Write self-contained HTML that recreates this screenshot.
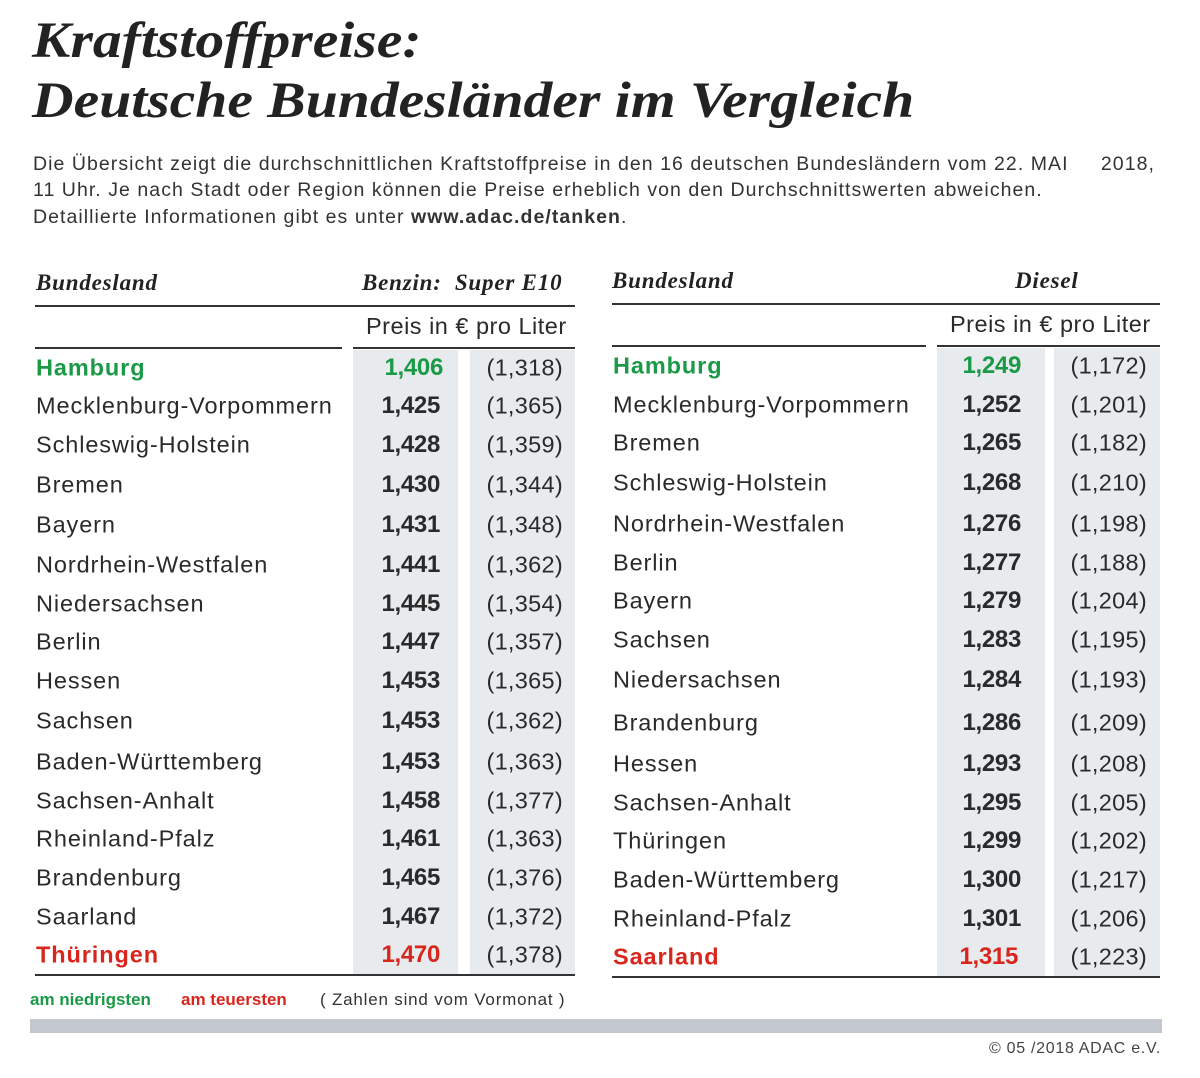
<!DOCTYPE html>
<html><head><meta charset="utf-8"><style>
body{margin:0;width:1200px;height:1078px;background:#fff;position:relative;font-family:"Liberation Sans",sans-serif;color:#2a2a2a;overflow:hidden}
div{position:absolute;white-space:nowrap}
.t{font-family:"Liberation Serif",serif;font-weight:bold;font-style:italic;font-size:51px;left:32px;color:#222;transform-origin:left top;transform:scaleX(1.13)}
.s{left:33px;font-size:19.5px;color:#333;letter-spacing:1.05px}
.h{font-family:"Liberation Serif",serif;font-weight:bold;font-style:italic;font-size:23px;color:#222;letter-spacing:0.8px}
.sh{background:#e8ebee}
.ln{height:2px;background:#333}
.n{font-size:23.5px;left:36px;transform:translateY(-50%);letter-spacing:0.9px}
.v{font-size:24px;font-weight:bold;text-align:right;transform:translateY(-50%);letter-spacing:-0.3px}
.p{font-size:23.5px;text-align:right;transform:translateY(-50%);letter-spacing:0.3px}
.g{color:#1a9a46;font-weight:bold}.r{color:#d9261c;font-weight:bold}
.pr{font-size:23.5px;letter-spacing:0.5px}
</style></head><body>
<div class="t" style="top:12px">Kraftstoffpreise:</div>
<div class="t" style="top:72px">Deutsche Bundesländer im Vergleich</div>
<div class="s" style="top:153px">Die Übersicht zeigt die durchschnittlichen Kraftstoffpreise in den 16 deutschen Bundesländern vom 22. MAI&nbsp;&nbsp;&nbsp;&nbsp; 2018,</div>
<div class="s" style="top:179px">11 Uhr. Je nach Stadt oder Region können die Preise erheblich von den Durchschnittswerten abweichen.</div>
<div class="s" style="top:206px">Detaillierte Informationen gibt es unter <b>www.adac.de/tanken</b>.</div>

<!-- left table -->
<div class="sh" style="left:353px;top:350px;width:105px;height:625px"></div>
<div class="sh" style="left:470px;top:350px;width:105px;height:625px"></div>
<div class="h" style="left:36px;top:270px">Bundesland</div>
<div class="h" style="left:362px;top:270px">Benzin:&nbsp; Super E10</div>
<div class="ln" style="left:35px;top:305px;width:540px;height:1.5px"></div>
<div class="pr" style="left:366px;top:313px">Preis in € pro Liter</div>
<div class="ln" style="left:35px;top:347px;width:307px;height:1.5px"></div>
<div class="ln" style="left:353px;top:347px;width:222px;height:1.5px"></div>
<div class="ln" style="left:35px;top:974px;width:540px;height:1.5px"></div>

<div class="n g" style="top:368px">Hamburg</div><div class="v g" style="top:368px;left:360px;width:83px">1,406</div><div class="p" style="top:368px;left:470px;width:93px">(1,318)</div>
<div class="n" style="top:406px">Mecklenburg-Vorpommern</div><div class="v" style="top:406px;left:360px;width:80px">1,425</div><div class="p" style="top:406px;left:470px;width:93px">(1,365)</div>
<div class="n" style="top:445px">Schleswig-Holstein</div><div class="v" style="top:445px;left:360px;width:80px">1,428</div><div class="p" style="top:445px;left:470px;width:93px">(1,359)</div>
<div class="n" style="top:485px">Bremen</div><div class="v" style="top:485px;left:360px;width:80px">1,430</div><div class="p" style="top:485px;left:470px;width:93px">(1,344)</div>
<div class="n" style="top:525px">Bayern</div><div class="v" style="top:525px;left:360px;width:80px">1,431</div><div class="p" style="top:525px;left:470px;width:93px">(1,348)</div>
<div class="n" style="top:565px">Nordrhein-Westfalen</div><div class="v" style="top:565px;left:360px;width:80px">1,441</div><div class="p" style="top:565px;left:470px;width:93px">(1,362)</div>
<div class="n" style="top:604px">Niedersachsen</div><div class="v" style="top:604px;left:360px;width:80px">1,445</div><div class="p" style="top:604px;left:470px;width:93px">(1,354)</div>
<div class="n" style="top:642px">Berlin</div><div class="v" style="top:642px;left:360px;width:80px">1,447</div><div class="p" style="top:642px;left:470px;width:93px">(1,357)</div>
<div class="n" style="top:681px">Hessen</div><div class="v" style="top:681px;left:360px;width:80px">1,453</div><div class="p" style="top:681px;left:470px;width:93px">(1,365)</div>
<div class="n" style="top:721px">Sachsen</div><div class="v" style="top:721px;left:360px;width:80px">1,453</div><div class="p" style="top:721px;left:470px;width:93px">(1,362)</div>
<div class="n" style="top:762px">Baden-Württemberg</div><div class="v" style="top:762px;left:360px;width:80px">1,453</div><div class="p" style="top:762px;left:470px;width:93px">(1,363)</div>
<div class="n" style="top:801px">Sachsen-Anhalt</div><div class="v" style="top:801px;left:360px;width:80px">1,458</div><div class="p" style="top:801px;left:470px;width:93px">(1,377)</div>
<div class="n" style="top:839px">Rheinland-Pfalz</div><div class="v" style="top:839px;left:360px;width:80px">1,461</div><div class="p" style="top:839px;left:470px;width:93px">(1,363)</div>
<div class="n" style="top:878px">Brandenburg</div><div class="v" style="top:878px;left:360px;width:80px">1,465</div><div class="p" style="top:878px;left:470px;width:93px">(1,376)</div>
<div class="n" style="top:917px">Saarland</div><div class="v" style="top:917px;left:360px;width:80px">1,467</div><div class="p" style="top:917px;left:470px;width:93px">(1,372)</div>
<div class="n r" style="top:955px">Thüringen</div><div class="v r" style="top:955px;left:360px;width:80px">1,470</div><div class="p" style="top:955px;left:470px;width:93px">(1,378)</div>

<!-- right table -->
<div class="sh" style="left:937px;top:348px;width:108px;height:628px"></div>
<div class="sh" style="left:1054px;top:348px;width:106px;height:628px"></div>
<div class="h" style="left:612px;top:268px">Bundesland</div>
<div class="h" style="left:1015px;top:268px">Diesel</div>
<div class="ln" style="left:612px;top:303px;width:548px;height:1.5px"></div>
<div class="pr" style="left:950px;top:311px">Preis in € pro Liter</div>
<div class="ln" style="left:612px;top:345px;width:314px;height:1.5px"></div>
<div class="ln" style="left:937px;top:345px;width:223px;height:1.5px"></div>
<div class="ln" style="left:612px;top:976px;width:548px;height:1.5px"></div>

<div class="n g" style="left:613px;top:366px">Hamburg</div><div class="v g" style="top:366px;left:940px;width:81px">1,249</div><div class="p" style="top:366px;left:1054px;width:93px">(1,172)</div>
<div class="n" style="left:613px;top:405px">Mecklenburg-Vorpommern</div><div class="v" style="top:405px;left:940px;width:81px">1,252</div><div class="p" style="top:405px;left:1054px;width:93px">(1,201)</div>
<div class="n" style="left:613px;top:443px">Bremen</div><div class="v" style="top:443px;left:940px;width:81px">1,265</div><div class="p" style="top:443px;left:1054px;width:93px">(1,182)</div>
<div class="n" style="left:613px;top:483px">Schleswig-Holstein</div><div class="v" style="top:483px;left:940px;width:81px">1,268</div><div class="p" style="top:483px;left:1054px;width:93px">(1,210)</div>
<div class="n" style="left:613px;top:524px">Nordrhein-Westfalen</div><div class="v" style="top:524px;left:940px;width:81px">1,276</div><div class="p" style="top:524px;left:1054px;width:93px">(1,198)</div>
<div class="n" style="left:613px;top:563px">Berlin</div><div class="v" style="top:563px;left:940px;width:81px">1,277</div><div class="p" style="top:563px;left:1054px;width:93px">(1,188)</div>
<div class="n" style="left:613px;top:601px">Bayern</div><div class="v" style="top:601px;left:940px;width:81px">1,279</div><div class="p" style="top:601px;left:1054px;width:93px">(1,204)</div>
<div class="n" style="left:613px;top:640px">Sachsen</div><div class="v" style="top:640px;left:940px;width:81px">1,283</div><div class="p" style="top:640px;left:1054px;width:93px">(1,195)</div>
<div class="n" style="left:613px;top:680px">Niedersachsen</div><div class="v" style="top:680px;left:940px;width:81px">1,284</div><div class="p" style="top:680px;left:1054px;width:93px">(1,193)</div>
<div class="n" style="left:613px;top:723px">Brandenburg</div><div class="v" style="top:723px;left:940px;width:81px">1,286</div><div class="p" style="top:723px;left:1054px;width:93px">(1,209)</div>
<div class="n" style="left:613px;top:764px">Hessen</div><div class="v" style="top:764px;left:940px;width:81px">1,293</div><div class="p" style="top:764px;left:1054px;width:93px">(1,208)</div>
<div class="n" style="left:613px;top:803px">Sachsen-Anhalt</div><div class="v" style="top:803px;left:940px;width:81px">1,295</div><div class="p" style="top:803px;left:1054px;width:93px">(1,205)</div>
<div class="n" style="left:613px;top:841px">Thüringen</div><div class="v" style="top:841px;left:940px;width:81px">1,299</div><div class="p" style="top:841px;left:1054px;width:93px">(1,202)</div>
<div class="n" style="left:613px;top:880px">Baden-Württemberg</div><div class="v" style="top:880px;left:940px;width:81px">1,300</div><div class="p" style="top:880px;left:1054px;width:93px">(1,217)</div>
<div class="n" style="left:613px;top:919px">Rheinland-Pfalz</div><div class="v" style="top:919px;left:940px;width:81px">1,301</div><div class="p" style="top:919px;left:1054px;width:93px">(1,206)</div>
<div class="n r" style="left:613px;top:957px">Saarland</div><div class="v r" style="top:957px;left:940px;width:78px">1,315</div><div class="p" style="top:957px;left:1054px;width:93px">(1,223)</div>

<div style="left:30px;top:990px;font-size:17px;font-weight:bold;color:#1a9a46">am niedrigsten</div>
<div style="left:181px;top:990px;font-size:17px;font-weight:bold;color:#d9261c">am teuersten</div>
<div style="left:320px;top:990px;font-size:17px;color:#333;letter-spacing:0.8px">( Zahlen sind vom Vormonat )</div>
<div style="left:30px;top:1019px;width:1132px;height:14px;background:#c2c8ce"></div>
<div style="right:39px;top:1040px;font-size:16px;color:#444;letter-spacing:0.7px">© 05 /2018 ADAC e.V.</div>
</body></html>
